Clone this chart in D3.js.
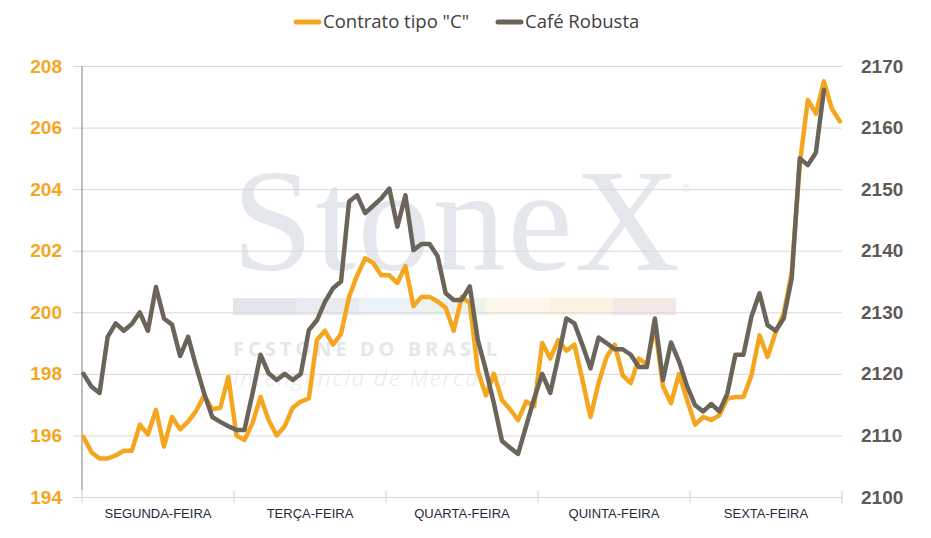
<!DOCTYPE html>
<html>
<head>
<meta charset="utf-8">
<script src="https://cdn.jsdelivr.net/npm/d3@7"></script>
<style>
  body { margin: 0; background: #fff; }
  svg { display: block; }
</style>
</head>
<body>
<svg id="chart"></svg>
<script>
// days on the category axis
const days = ['SEGUNDA-FEIRA', 'TERÇA-FEIRA', 'QUARTA-FEIRA', 'QUINTA-FEIRA', 'SEXTA-FEIRA'];

// tick values, left (tipo C) and right (robusta)
const leftTicks = [194, 196, 198, 200, 202, 204, 206, 208];
const rightTicks = [2100, 2110, 2120, 2130, 2140, 2150, 2160, 2170];

// Contrato tipo "C" (left axis)
const arabica = [
  195.95, 195.45, 195.25, 195.25, 195.35, 195.5, 195.5, 196.35, 196.03, 196.83,
  195.64, 196.6, 196.2, 196.45, 196.8, 197.3, 196.85, 196.9, 197.9, 196.0,
  195.85, 196.4, 197.25, 196.5, 196.0, 196.3, 196.9, 197.1, 197.2, 199.1,
  199.4, 198.95, 199.3, 200.5, 201.2, 201.75, 201.6, 201.2, 201.2, 200.95,
  201.5, 200.2, 200.5, 200.5, 200.35, 200.15, 199.4, 200.5, 200.3, 198.1,
  197.3, 198.0, 197.15, 196.85, 196.5, 197.1, 196.95, 199.0, 198.5, 199.1,
  198.75, 198.95, 197.8, 196.6, 197.7, 198.55, 198.95, 197.95, 197.7, 198.5,
  198.3, 199.55, 197.6, 197.05, 198.0, 197.15, 196.35, 196.6, 196.5, 196.65,
  197.2, 197.25, 197.25, 197.95, 199.25, 198.55, 199.35, 199.95, 201.3, 204.8,
  206.9, 206.45, 207.5, 206.6, 206.2
];

// Café Robusta (right axis)
const robusta = [
  2120.0, 2117.9, 2116.9, 2126.0, 2128.2, 2127.0, 2128.1, 2130.0, 2127.0, 2134.1,
  2129.0, 2128.0, 2122.9, 2126.0, 2121.2, 2116.8, 2113.0, 2112.2, 2111.5, 2110.9,
  2110.9, 2116.8, 2123.1, 2120.1, 2119.0, 2120.0, 2119.0, 2120.0, 2127.1, 2128.7,
  2131.7, 2133.9, 2135.0, 2148.0, 2149.0, 2146.1, 2147.3, 2148.5, 2150.1, 2143.9,
  2149.0, 2140.1, 2141.1, 2141.1, 2139.1, 2133.1, 2132.0, 2132.0, 2134.2, 2125.5,
  2120.6, 2115.2, 2109.1, 2108.0, 2107.0, 2111.5, 2116.0, 2120.0, 2116.9, 2122.8,
  2129.0, 2128.2, 2124.7, 2120.9, 2125.9, 2125.0, 2124.0, 2124.0, 2123.1, 2121.1,
  2121.1, 2129.0, 2119.0, 2125.1, 2122.0, 2118.0, 2114.9, 2113.9, 2115.1, 2113.9,
  2116.8, 2123.1, 2123.1, 2129.3, 2133.1, 2127.9, 2127.0, 2129.0, 2135.5, 2155.0,
  2153.9, 2155.9, 2166.1
];

const seriesNames = ['Contrato tipo "C"', 'Café Robusta'];
const orange = '#F5A61F';
const brown = '#6B645A';

const width = 931;
const height = 538;
const plotLeft = 82;
const plotRight = 842;
const plotTop = 66;
const plotBottom = 497;

const svg = d3.select('#chart').attr('width', width).attr('height', height);

const xScale = d3.scaleLinear().domain([0, arabica.length - 1]).range([plotLeft + 1.5, plotRight - 2]);
const dayScale = d3.scaleBand().domain(days).range([plotLeft, plotRight]);
const yLeft = d3.scaleLinear().domain([194, 208]).range([plotBottom, plotTop]);
const yRight = d3.scaleLinear().domain([2100, 2170]).range([plotBottom, plotTop]);

// watermark
const wm = svg.append('g');
wm.append('text').attr('x', 232).attr('y', 270)
  .attr('font-family', '"Liberation Serif", serif').attr('font-size', 146)
  .attr('fill', '#e4e7ec').attr('textLength', 448).attr('lengthAdjust', 'spacing')
  .text('StoneX');
wm.append('text').attr('x', 682).attr('y', 192)
  .attr('font-family', '"Liberation Sans", sans-serif').attr('font-size', 11)
  .attr('fill', '#e4e7ec').text('®');
const stripeColors = ['#e2e6eb', '#e8ecf0', '#edf2f6', '#ebf3ec', '#fcf7e8', '#fcf1e3', '#f6e6e6'];
wm.selectAll('rect').data(stripeColors).enter().append('rect')
  .attr('x', (d, i) => 233 + i * 63.3).attr('y', 298)
  .attr('width', 63.3).attr('height', 17).attr('fill', d => d);
wm.append('text').attr('x', 233).attr('y', 356)
  .attr('font-family', '"Open Sans", sans-serif').attr('font-weight', 'bold').attr('font-size', 20)
  .attr('fill', '#e4e7ec').attr('textLength', 264).attr('lengthAdjust', 'spacing')
  .text('FCSTONE DO BRASIL');
wm.append('text').attr('x', 233).attr('y', 386)
  .attr('font-family', '"Open Sans", sans-serif').attr('font-style', 'italic').attr('font-weight', 300)
  .attr('font-size', 22).attr('fill', '#e8eaee').attr('textLength', 274).attr('lengthAdjust', 'spacing')
  .text('Inteligência de Mercado');

// gridlines + left ticks
const leftAxis = d3.axisLeft(yLeft).tickValues(leftTicks).tickSize(9).tickPadding(11).tickFormat(d3.format('d'));
const leftG = svg.append('g').attr('transform', `translate(${plotLeft},0)`).call(leftAxis);
leftG.select('.domain').remove();
leftG.selectAll('.tick line').attr('stroke', '#d9d9d9');
leftG.selectAll('.tick').append('line')
  .attr('x1', 0).attr('x2', plotRight - plotLeft).attr('stroke', '#d9d9d9');
leftG.selectAll('.tick text')
  .attr('fill', orange).attr('font-family', '"Liberation Sans", Arial, sans-serif')
  .attr('font-weight', 'bold').attr('font-size', 19);

const rightAxis = d3.axisRight(yRight).tickValues(rightTicks).tickSize(0).tickPadding(19).tickFormat(d3.format('d'));
const rightG = svg.append('g').attr('transform', `translate(${plotRight},0)`).call(rightAxis);
rightG.select('.domain').remove();
rightG.selectAll('.tick text')
  .attr('fill', '#5c5a57').attr('font-family', '"Liberation Sans", Arial, sans-serif')
  .attr('font-weight', 'bold').attr('font-size', 19);

// left axis line
svg.append('line').attr('x1', plotLeft).attr('x2', plotLeft)
  .attr('y1', plotTop).attr('y2', plotBottom - 7).attr('stroke', '#7f7f7f').attr('stroke-width', 1);

// category axis: separators and labels
const bounds = days.map(d => dayScale(d)).concat([plotRight]);
svg.append('g').selectAll('line').data(bounds).enter().append('line')
  .attr('x1', d => d).attr('x2', d => d)
  .attr('y1', plotBottom - 7).attr('y2', plotBottom + 6)
  .attr('stroke', '#d0d0d0');
svg.append('g').selectAll('text').data(days).enter().append('text')
  .attr('x', d => dayScale(d) + dayScale.bandwidth() / 2).attr('y', 518)
  .attr('text-anchor', 'middle')
  .attr('font-family', '"Liberation Sans", Arial, sans-serif').attr('font-size', 13)
  .attr('fill', '#262a3a').text(d => d);

// lines
const lineLeft = d3.line().x((d, i) => xScale(i)).y(d => yLeft(d));
const lineRight = d3.line().x((d, i) => xScale(i)).y(d => yRight(d));

svg.append('path').datum(arabica).attr('fill', 'none').attr('stroke', orange)
  .attr('stroke-width', 4.5).attr('stroke-linejoin', 'round').attr('stroke-linecap', 'round')
  .attr('d', lineLeft);
svg.append('path').datum(robusta).attr('fill', 'none').attr('stroke', brown)
  .attr('stroke-width', 4.5).attr('stroke-linejoin', 'round').attr('stroke-linecap', 'round')
  .attr('d', lineRight);

// legend
const legend = svg.append('g');
const legendItems = [
  { name: seriesNames[0], color: orange, x: 294 },
  { name: seriesNames[1], color: brown, x: 496 }
];
legendItems.forEach(item => {
  legend.append('line').attr('x1', item.x + 2).attr('x2', item.x + 25)
    .attr('y1', 22).attr('y2', 22).attr('stroke', item.color)
    .attr('stroke-width', 5).attr('stroke-linecap', 'round');
  legend.append('text').attr('x', item.x + 29).attr('y', 28)
    .attr('font-family', '"Open Sans", sans-serif').attr('font-size', 18.5)
    .attr('fill', '#404040').text(item.name);
});
</script>
</body>
</html>
